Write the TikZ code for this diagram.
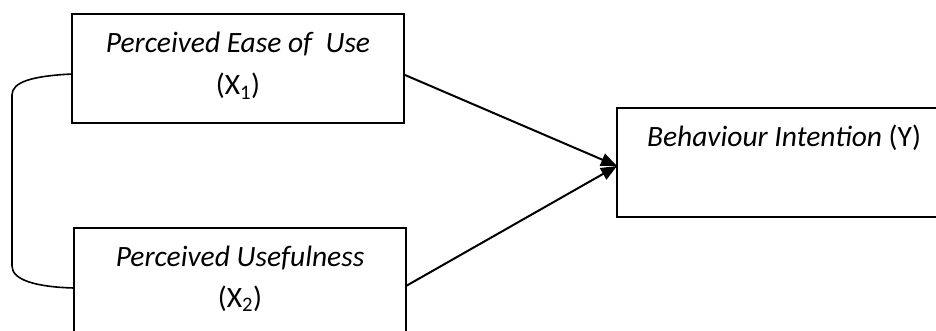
\documentclass[tikz,border=0pt]{standalone}
\usepackage{fontspec}
\setmainfont{Carlito}
\usetikzlibrary{arrows.meta}
\begin{document}
\begin{tikzpicture}[x=1pt,y=-1pt,
  box/.style={draw=black,line width=2.4pt,inner sep=0pt},
  lbl/.style={anchor=base,inner sep=0pt,font=\fontsize{29.5}{35}\selectfont},
  link/.style={draw=black,line width=1.6pt},
  arr/.style={draw=black,line width=2pt,-{Triangle[length=16pt,width=13pt]}}]
\useasboundingbox (0,0) rectangle (936,331);
\clip (0,0) rectangle (936,331);
% boxes
\draw[box] (72,14) rectangle (404,123) node[pos=0.5] (b1) {};
\draw[box] (74,228) rectangle (406,345) node[pos=0.5] (b2) {};
\draw[box] (617,108) rectangle (950,217) node[pos=0.5] (b3) {};
% texts
\node[lbl] (t1a) at (238,53) {\itshape Perceived Ease of\ \ Use};
\node[lbl] (t1b) at (238,95) {(X\textsubscript{1})};
\node[lbl] (t2a) at (240,266) {\itshape Perceived Usefulness};
\node[lbl] (t2b) at (240,307) {(X\textsubscript{2})};
\node[lbl] (t3) at (784,147) {\itshape Behaviour Intention\upshape\ (Y)};
% connectors
\coordinate (c1) at (72,74);
\coordinate (c2) at (74,288);
\coordinate (a1) at (405,75);
\coordinate (a2) at (406,286);
\coordinate (tip) at (617,166);
\draw[link] (c1) .. controls (32,76) and (12,82) .. (12,95) -- (12,266) .. controls (12,280) and (36,287) .. (c2);
\draw[arr] (a1) -- (tip);
\draw[arr] (a2) -- (tip);
\end{tikzpicture}
\end{document}
